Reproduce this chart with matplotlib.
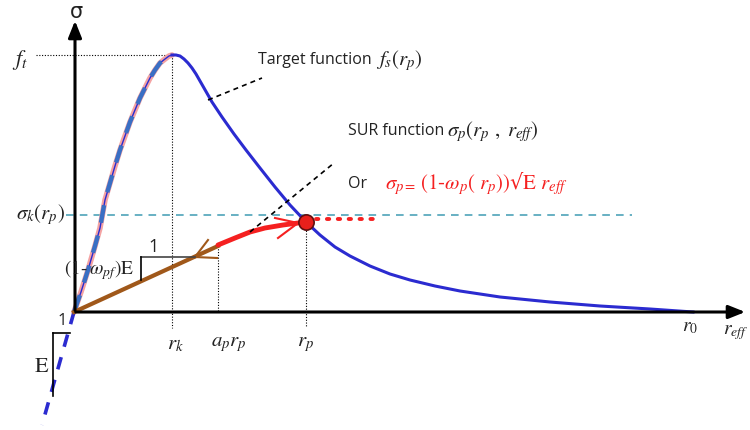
import matplotlib
matplotlib.use("Agg")
import matplotlib.pyplot as plt

plt.rcParams["mathtext.fontset"] = "stix"

# Diagram drawn in a pixel-like frame: x to the right, y downward
origin = (74, 312)

# Target softening curve f_s(r_p): rising branch then descending branch
rise_x = [74, 81, 88, 95, 100, 105, 110, 115, 120, 125, 130, 135, 140, 145, 150, 155,
          160, 165, 169, 172]
rise_y = [312, 292, 270, 246, 228, 200, 183, 166, 150, 136, 122, 110, 98, 88, 78, 70,
          63, 59, 56, 55]
fall_x = [172, 176, 180, 184, 188, 192, 196, 200, 204, 208, 212, 222, 234, 246, 260, 275,
          290, 306, 320, 335, 350, 370, 390, 410, 435, 460, 500, 550, 600, 650, 693]
fall_y = [55, 55, 56, 59, 63, 68, 74, 81, 88, 95, 102, 117, 134, 150, 168, 187,
          205, 222, 235, 247, 256, 266, 274, 280, 286, 291, 297, 302, 306, 309, 312]

# Initial elastic tangent (dashed) extended below the origin
tangent_x = [74, 42]
tangent_y = [312, 425]

# Unloading branch and SUR path
brown_x = [74, 218]
brown_y = [312, 246]
sur_x = [218, 235, 250, 265, 283, 298]
sur_y = [245, 238, 232, 228, 225, 223]
point_rp = (306, 222)
sigma_k_y = 215
ft_y = 55
rk_x, aprp_x, rp_x = 172, 218, 306

fig = plt.figure(figsize=(7.5, 4.3), dpi=100)
ax = fig.add_axes([0, 0, 1, 1])
ax.set_xlim(0, 750)
ax.set_ylim(430, 0)
ax.axis("off")

# Axes arrows
ax.annotate("", xy=(75, 18), xytext=(75, 313),
            arrowprops=dict(arrowstyle="-|>,head_width=0.4,head_length=1.0", lw=2.2, color="black"))
ax.annotate("", xy=(748, 312), xytext=(73, 312),
            arrowprops=dict(arrowstyle="-|>,head_width=0.4,head_length=1.0", lw=2.2, color="black"))

# Guide lines
dotted = dict(color="black", lw=0.8, ls=(0, (1, 1.5)))
ax.plot([36, 172], [ft_y, ft_y], **dotted)
ax.plot([rk_x, rk_x], [ft_y, 328], **dotted)
ax.plot([aprp_x, aprp_x], [246, 312], **dotted)
ax.plot([rp_x, rp_x], [222, 327], **dotted)
ax.plot([66, 632], [sigma_k_y, sigma_k_y], color="#3f9bb3", lw=1.1, ls=(0, (5, 4)))

# Rising branch: pink underlay, thin blue curve and dashed fit on top
ax.plot(rise_x, rise_y, color="#f4a3a3", lw=4, solid_capstyle="round")
ax.plot(rise_x, rise_y, color="#2b2bd0", lw=1.0)
ax.plot(rise_x[:-2], rise_y[:-2], color="#3a6fc4", lw=3.2, ls=(0, (4, 3)))
# Descending branch
ax.plot(fall_x, fall_y, color="#2b2bd0", lw=2.2)
ax.plot(tangent_x, tangent_y, color="#2b2bd0", lw=2.6, ls=(0, (3.5, 3)))

# Brown unloading line with arrow head pointing back to origin
ax.plot(brown_x, brown_y, color="#a0581a", lw=3)
ax.plot([195, 208], [257, 240], color="#a0581a", lw=1.5)
ax.plot([195, 217], [257, 258], color="#a0581a", lw=1.5)

# Red SUR path with arrow
ax.plot(sur_x, sur_y, color="#f52020", lw=3.5, solid_capstyle="round")
ax.plot([275, 298], [218, 223], color="#f52020", lw=1.5)
ax.plot([278, 298], [238, 223], color="#f52020", lw=1.5)
ax.plot([316, 378], [219, 219], color="#f52020", lw=2.8, ls=(0, (0.6, 2.2)),
        dash_capstyle="round")
ax.plot(*point_rp, marker="o", ms=11, mfc="#e8201c", mec="#601010", mew=1.2)

# Slope triangles
ax.plot([141, 195], [257, 257], color="#444444", lw=1.2)
ax.plot([141, 141], [257, 280], color="black", lw=1.2)
ax.plot([53, 70], [333, 333], color="black", lw=1.2)
ax.plot([53, 53], [333, 396], color="black", lw=1.2)

# Leader lines
ax.plot([208, 262], [100, 78], color="black", lw=1.2, ls=(0, (3, 2.5)))
ax.plot([250, 334], [232, 163], color="black", lw=1.2, ls=(0, (3, 2.5)))

# Text
ink = "#222222"
ax.text(76, 12, "σ", fontsize=15, ha="center", va="center", family="DejaVu Sans", color=ink)
ax.text(20, 60, r"$f_t$", fontsize=16, ha="center", va="center", color=ink)
ax.text(40, 215, r"$\sigma_k(r_p)$", fontsize=15, ha="center", va="center", color=ink)
ax.text(99, 270, r"$(1\text{-}\,\omega_{pf})\mathrm{E}$", fontsize=14, ha="center",
        va="center", color=ink)
ax.text(154, 247, "1", fontsize=13, ha="center", va="center", family="Open Sans", color=ink)
ax.text(62, 321, "1", fontsize=12, ha="center", va="center", family="Open Sans", color=ink)
ax.text(42, 366, r"$\mathrm{E}$", fontsize=16, ha="center", va="center", color=ink)
ax.text(175, 344, r"$r_k$", fontsize=15, ha="center", va="center", color=ink)
ax.text(229, 344, r"$a_pr_p$", fontsize=15, ha="center", va="center", color=ink)
ax.text(306, 344, r"$r_p$", fontsize=15, ha="center", va="center", color=ink)
ax.text(690, 327, r"$r_0$", fontsize=14, ha="center", va="center", color=ink)
ax.text(748, 332, r"$r_{eff}$", fontsize=14, ha="right", va="center", color=ink)

ax.text(258, 60, "Target function", fontsize=11.5, ha="left", va="center",
        family="Open Sans", color=ink)
ax.text(376, 61, r"$f_s(r_p)$", fontsize=15, ha="left", va="center", color=ink)
ax.text(348, 131, "SUR function", fontsize=11.5, ha="left", va="center",
        family="Open Sans", color=ink)
ax.text(447, 132, r"$\sigma_p(r_p\ ,\ r_{eff})$", fontsize=15, ha="left", va="center", color=ink)
ax.text(348, 184, "Or", fontsize=11.5, ha="left", va="center", family="Open Sans", color=ink)
ax.text(385, 184, "$\\sigma_{p=}\\,(1\\text{-}\\omega_p(\\ r_p))$√$\\mathrm{E}\\ r_{eff}$",
        fontsize=15, ha="left", va="center", color="#f52020")

fig.savefig("out.png", dpi=100)
